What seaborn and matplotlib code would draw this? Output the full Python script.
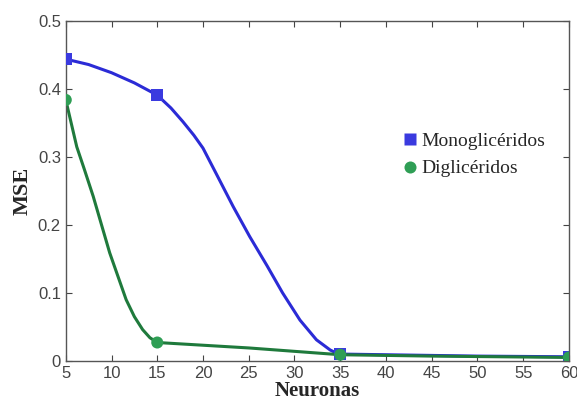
import matplotlib
matplotlib.use("Agg")
import matplotlib.pyplot as plt
import pandas as pd
import seaborn as sns

# measured points (markers)
neuronas = [5, 15, 35, 60]
mse_mono = [0.444, 0.391, 0.010, 0.006]
mse_di = [0.384, 0.027, 0.009, 0.005]

# points
curve_x_mono = [5, 7.5, 10, 12.5, 15, 16.5, 17.8, 19, 20, 21.5, 23.3, 25.1, 27, 28.7, 30.6, 32.4, 33.9, 34.5, 35, 40, 50, 60]
curve_y_mono = [0.444, 0.436, 0.424, 0.409, 0.391, 0.372, 0.352, 0.332, 0.313, 0.274, 0.227, 0.183, 0.140, 0.100, 0.060, 0.031, 0.016, 0.012, 0.010, 0.009, 0.007, 0.006]
curve_x_di = [5, 6.2, 7.0, 8.0, 9.8, 11.6, 12.5, 13.4, 14.2, 15, 20, 25, 30, 35, 45, 60]
curve_y_di = [0.384, 0.315, 0.283, 0.242, 0.159, 0.090, 0.065, 0.046, 0.034, 0.027, 0.023, 0.019, 0.014, 0.009, 0.007, 0.005]

blue = '#2b2bd6'
green = '#1f7a3c'
mk_green = '#2f9e55'

sns.set_style('ticks')
plt.rcParams['font.family'] = ['Liberation Sans', 'DejaVu Sans']

curves = pd.concat([
    pd.DataFrame({'x': curve_x_mono, 'y': curve_y_mono, 's': 'Monoglicéridos'}),
    pd.DataFrame({'x': curve_x_di, 'y': curve_y_di, 's': 'Diglicéridos'}),
])
pts = pd.concat([
    pd.DataFrame({'x': neuronas, 'y': mse_mono, 's': 'Monoglicéridos'}),
    pd.DataFrame({'x': neuronas, 'y': mse_di, 's': 'Diglicéridos'}),
])

fig = plt.figure(figsize=(5.77, 4.05), dpi=100)
ax = fig.add_axes([0.114, 0.109, 0.872, 0.839])

sns.lineplot(data=curves, x='x', y='y', hue='s', palette={'Monoglicéridos': blue, 'Diglicéridos': green},
             linewidth=2.2, ax=ax, legend=False, sort=False)
sns.scatterplot(data=pts, x='x', y='y', hue='s', style='s',
                palette={'Monoglicéridos': '#3a3adf', 'Diglicéridos': mk_green},
                markers={'Monoglicéridos': 's', 'Diglicéridos': 'o'},
                s=75, edgecolor='none', ax=ax, zorder=3)

ax.set_xlim(5, 60)
ax.set_ylim(0, 0.5)
ax.set_xticks(range(5, 61, 5))
ax.set_yticks([0, 0.1, 0.2, 0.3, 0.4, 0.5])
ax.set_yticklabels(['0', '0.1', '0.2', '0.3', '0.4', '0.5'])
ax.tick_params(direction='in', top=True, right=True, labelsize=12, colors='#444444', length=4)
for sp in ax.spines.values():
    sp.set_color('#555555')
    sp.set_linewidth(1)

ax.set_xlabel('Neuronas', family='Liberation Serif', fontweight='bold', fontsize=15, labelpad=0)
ax.set_ylabel('MSE', family='Liberation Serif', fontweight='bold', fontsize=16, labelpad=4)

handles, labels = ax.get_legend_handles_labels()
leg = ax.legend(handles, labels, loc='upper left', bbox_to_anchor=(0.645, 0.695), frameon=False,
                prop={'family': 'Liberation Serif', 'size': 14}, handletextpad=0.0, borderaxespad=0,
                labelspacing=0.5, handlelength=1.2)

fig.savefig('out.png', dpi=100)
